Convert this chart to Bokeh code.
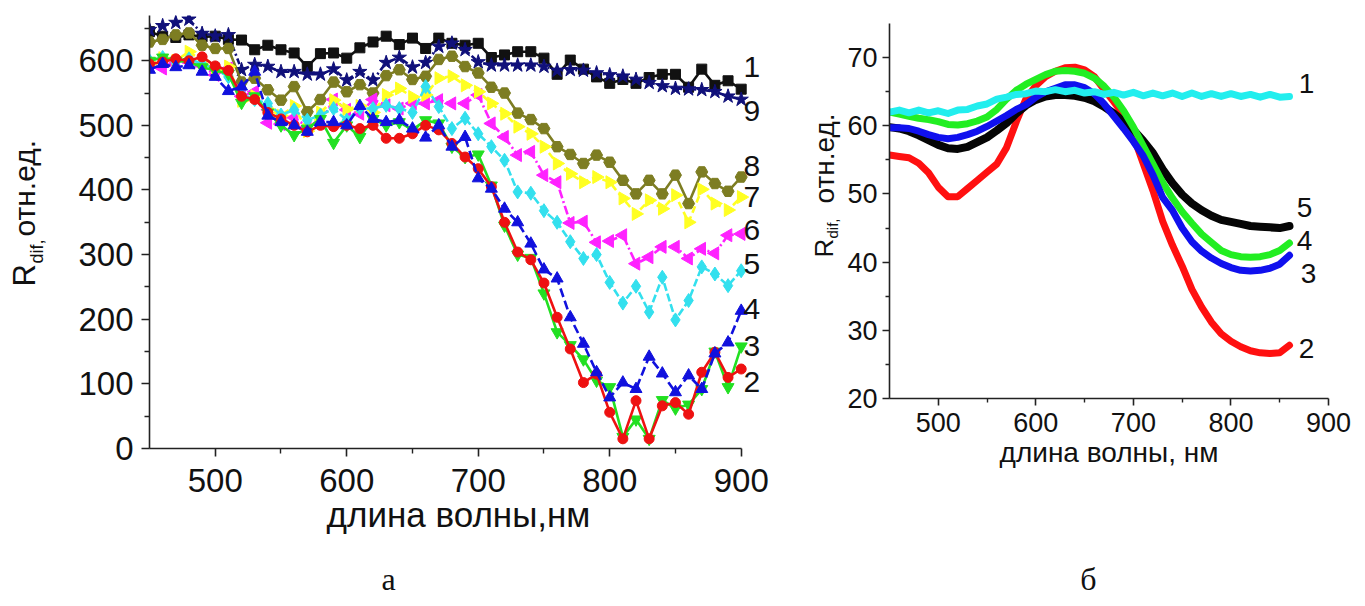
import math
from bokeh.plotting import figure
from bokeh.layouts import row, column
from bokeh.models import FixedTicker, Range1d
from bokeh.core.properties import value
from bokeh.embed import file_html
from bokeh.resources import INLINE

# ---------------- data: panel a ----------------
wl_a = [450 + 10 * i for i in range(46)]
s1_black = [645, 638, 636, 640, 637, 638, 633, 632, 617, 624, 617, 612, 591, 611, 612, 604, 620, 629, 638, 625,
            635, 619, 635, 627, 624, 627, 605, 609, 614, 614, 604, 579, 601, 587, 575, 565, 571, 565, 574, 579,
            579, 559, 587, 562, 569, 556]
s9_navy = [648, 654, 659, 664, 642, 638, 640, 586, 594, 591, 583, 583, 579, 579, 587, 570, 583, 570, 597, 605,
           590, 597, 622, 627, 617, 598, 593, 593, 593, 593, 591, 585, 586, 585, 581, 578, 576, 571, 566, 561,
           557, 556, 555, 552, 545, 540]
s8_olive = [629, 633, 640, 643, 624, 619, 619, 567, 573, 555, 539, 560, 521, 540, 567, 552, 563, 550, 577, 586,
            571, 576, 602, 607, 591, 581, 559, 550, 519, 509, 495, 467, 455, 441, 454, 443, 415, 394, 415, 394,
            423, 379, 428, 410, 398, 420]
s7_yellow = [595, 604, 600, 614, 600, 585, 591, 538, 545, 525, 515, 530, 491, 520, 539, 525, 530, 520, 547, 557,
             544, 547, 573, 576, 562, 552, 534, 518, 498, 487, 467, 441, 425, 412, 420, 412, 387, 363, 384, 371,
             392, 350, 401, 379, 369, 389]
s6_magenta = [591, 588, 596, 598, 592, 578, 588, 545, 552, 504, 502, 512, 498, 504, 540, 524, 518, 540, 531, 526,
              534, 534, 539, 534, 534, 547, 503, 482, 454, 459, 423, 412, 349, 351, 319, 321, 330, 286, 296, 312,
              312, 294, 309, 302, 330, 332]
s5_cyan = [600, 605, 598, 603, 595, 588, 575, 548, 540, 534, 516, 524, 508, 516, 526, 508, 526, 526, 531, 526,
           520, 560, 529, 495, 511, 487, 467, 446, 397, 395, 368, 350, 320, 294, 300, 257, 225, 251, 211, 265,
           199, 229, 281, 270, 252, 275]
s4_blue = [586, 595, 590, 593, 583, 575, 553, 560, 583, 515, 505, 500, 490, 505, 505, 500, 530, 510, 505, 508,
           495, 481, 500, 467, 482, 418, 402, 371, 350, 317, 277, 263, 203, 162, 118, 79, 102, 92, 142, 116,
           87, 113, 92, 147, 164, 213]
s3_green = [600, 605, 600, 598, 590, 585, 580, 535, 545, 520, 500, 485, 495, 510, 473, 500, 482, 510, 500, 505,
            493, 508, 503, 467, 451, 455, 407, 345, 300, 295, 240, 180, 160, 138, 105, 95, 18, 45, 15, 75,
            62, 68, 92, 150, 95, 158]
s2_red = [595, 598, 603, 600, 606, 592, 585, 545, 540, 520, 510, 500, 490, 500, 498, 500, 495, 500, 480, 480,
          487, 500, 493, 472, 451, 433, 405, 350, 304, 292, 256, 203, 154, 102, 115, 56, 15, 74, 15, 66,
          71, 53, 118, 149, 110, 123]
labels_a = ["1", "9", "8", "7", "6", "5", "4", "3", "2"]

# ---------------- data: panel b ----------------
wl_b = [450 + 10 * i for i in range(42)]
b2_red = [55.7, 55.5, 55.3, 54.5, 53.1, 51.0, 49.6, 49.6, 50.8, 52.0, 53.2, 54.4, 56.8, 60.6, 64.0, 65.9, 67.2,
          68.0, 68.5, 68.6, 68.2, 67.2, 65.3, 63.5, 61.6, 58.5, 54.5, 50.5, 46.0, 42.5, 39.4, 36.0, 33.4, 31.2,
          29.5, 28.4, 27.6, 27.0, 26.7, 26.6, 26.7, 27.8]
b5_black = [59.8, 59.6, 59.2, 58.6, 57.9, 57.2, 56.7, 56.6, 56.9, 57.6, 58.3, 59.3, 60.4, 61.8, 63.0, 63.8, 64.3,
            64.5, 64.5, 64.4, 64.1, 63.6, 62.8, 61.8, 60.6, 59.4, 57.8, 56.0, 53.6, 51.6, 49.9, 48.6, 47.6, 46.8,
            46.2, 45.9, 45.6, 45.3, 45.2, 45.1, 45.0, 45.3]
b3_blue = [59.7, 59.7, 59.6, 59.2, 58.7, 58.3, 58.1, 58.3, 58.7, 59.2, 59.9, 60.7, 61.5, 62.4, 63.1, 64.2, 65.0,
           65.5, 66.0, 66.0, 65.6, 64.7, 63.2, 61.4, 59.6, 57.7, 55.6, 52.8, 49.5, 47.6, 45.0, 43.0, 41.6, 40.6,
           39.8, 39.2, 38.8, 38.7, 38.8, 39.1, 39.7, 41.0]
b4_green = [62.0, 61.7, 61.4, 61.1, 60.9, 60.6, 60.2, 60.1, 60.3, 60.7, 61.3, 62.4, 63.9, 65.2, 66.1, 66.8, 67.5,
            68.0, 68.1, 68.0, 67.7, 67.0, 65.8, 64.2, 62.2, 59.8, 57.1, 54.4, 51.7, 49.4, 47.4, 45.7, 44.1, 42.9,
            41.7, 41.1, 40.8, 40.7, 40.8, 41.1, 41.7, 42.8]
b1_cyan = [62.0, 62.3, 61.9, 62.3, 61.9, 62.2, 61.8, 62.3, 62.4, 62.9, 63.2, 63.9, 64.2, 64.6, 64.7, 65.1, 65.0,
           65.3, 65.0, 65.2, 64.8, 65.0, 64.6, 64.9, 64.5, 64.9, 64.4, 64.8, 64.4, 64.8, 64.3, 64.8, 64.3, 64.7,
           64.3, 64.7, 64.3, 64.6, 64.2, 64.6, 64.2, 64.3]
labels_b = ["1", "5", "4", "3", "2"]

FONT = "Liberation Sans"
SERIF = "Liberation Serif"
MAIN_H = 546
CAP_H = 606 - MAIN_H


def style_axes(p, tick_size, out_major, out_minor, xstand, ystand):
    p.outline_line_color = None
    p.grid.visible = False
    for ax in (p.xaxis[0], p.yaxis[0]):
        ax.axis_line_width = 1.6
        ax.axis_line_color = "#222222"
        ax.major_tick_line_width = 1.6
        ax.minor_tick_line_width = 1.4
        ax.major_tick_line_color = "#222222"
        ax.minor_tick_line_color = "#222222"
        ax.major_tick_in = 0
        ax.major_tick_out = out_major
        ax.minor_tick_in = 0
        ax.minor_tick_out = out_minor
        ax.major_label_text_font = FONT
        ax.major_label_text_font_size = tick_size
        ax.major_label_text_color = "#111111"
        ax.axis_label_text_font = FONT
        ax.axis_label_text_font_style = "normal"
        ax.axis_label_text_color = "#111111"
    p.xaxis.major_label_standoff = xstand
    p.yaxis.major_label_standoff = ystand


def blank_fig(w, h):
    f = figure(width=w, height=h, x_range=Range1d(0, w), y_range=Range1d(0, h),
               output_backend="svg", toolbar_location=None,
               min_border_left=0, min_border_right=0, min_border_top=0, min_border_bottom=0,
               x_axis_location=None, y_axis_location=None)
    f.outline_line_color = None
    f.grid.visible = False
    return f


VSHIFT = 12  # rotated text is drawn this far right of its anchor


def vtext(f, x, y, t, size, font=FONT):
    f.text(x=[x - VSHIFT], y=[y], text=[t], angle=math.pi / 2, text_font=value(font), text_font_size=size,
           text_color="#111111", text_align="left", text_baseline="alphabetic")


# ================= y-title strip for panel a =================
LA_W = 60
labA = blank_fig(LA_W, MAIN_H)
vtext(labA, 36, MAIN_H - 286, "R", "31px")
vtext(labA, 48, MAIN_H - 263, "dif,", "18px")
vtext(labA, 36, MAIN_H - 236, "отн.ед.", "30px")

# ================= panel a =================
A_W = 800 - LA_W
A_BL, A_BR, A_BT, A_BB = 149 - LA_W, 33, 15, MAIN_H - 448
p1 = figure(width=A_W, height=MAIN_H, x_range=Range1d(450, 920), y_range=Range1d(0, 670),
            output_backend="svg", toolbar_location=None,
            min_border_left=A_BL, min_border_right=A_BR, min_border_top=A_BT, min_border_bottom=A_BB)
style_axes(p1, "33px", 8, 5, 12, 8)
p1.xaxis.bounds = (450, 900)
p1.xaxis.ticker = FixedTicker(ticks=[500, 600, 700, 800, 900], minor_ticks=[550, 650, 750, 850])
p1.yaxis.ticker = FixedTicker(ticks=[0, 100, 200, 300, 400, 500, 600],
                              minor_ticks=[50, 150, 250, 350, 450, 550, 650])
p1.xaxis.axis_label = "длина волны,нм"
p1.xaxis.axis_label_text_font_size = "35px"
p1.xaxis.axis_label_standoff = 0

a_frame_w = A_W - A_BL - A_BR
a_frame_h = MAIN_H - A_BT - A_BB


def a_x(px):
    return 450 + (px - LA_W - A_BL) * 470 / a_frame_w


def a_y(py):
    return (MAIN_H - A_BB - py) * 670 / a_frame_h


series_a = [
    (s1_black, "#111111", "square", 10, "solid", 0.0),
    (s9_navy, "#10107a", "star", 15, "6 3 2 3", 0.0),
    (s8_olive, "#7d7d22", "hex", 12, "solid", 0.0),
    (s6_magenta, "#ff22ff", "triangle", 13, "9 3 2 3", math.pi / 2),
    (s7_yellow, "#ffff22", "triangle", 13, "7 4", -math.pi / 2),
    (s5_cyan, "#33e0ee", "diamond", 14, "8 3", 0.0),
    (s3_green, "#22e022", "inverted_triangle", 12, "solid", 0.0),
    (s2_red, "#ee1111", "circle", 10, "solid", 0.0),
    (s4_blue, "#1111dd", "triangle", 12, "9 4", 0.0),
]
for vals, col, mk, sz, dash, ang in series_a:
    p1.line(wl_a, vals, line_color=col, line_width=2.6, line_dash=dash)
    p1.scatter(wl_a, vals, marker=mk, size=sz, angle=ang, fill_color=col, line_color=col)

lab_a_y = [66, 110, 165, 196, 229, 263, 308, 345, 381]
p1.text(x=[a_x(743)] * len(labels_a), y=[a_y(v) for v in lab_a_y], text=labels_a,
        text_font=value(FONT), text_font_size="30px", text_color="#111111",
        text_align="left", text_baseline="middle")

# ================= y-title strip for panel b =================
LB_W = 44
labB = blank_fig(LB_W, MAIN_H)
vtext(labB, 35, MAIN_H - 257, "R", "26px")
vtext(labB, 44, MAIN_H - 238, "dif,", "15px")
vtext(labB, 36, MAIN_H - 203, "отн.ед.", "28px")

# ================= panel b =================
B_W = 1365 - 800 - LB_W
B_LEFT = 800 + LB_W
B_BL = 887 - B_LEFT
B_BR = B_W - B_BL - 441
B_BT, B_BB = 23, MAIN_H - 398
p2 = figure(width=B_W, height=MAIN_H, x_range=Range1d(450, 900), y_range=Range1d(20, 75),
            output_backend="svg", toolbar_location=None,
            min_border_left=B_BL, min_border_right=B_BR, min_border_top=B_BT, min_border_bottom=B_BB)
style_axes(p2, "27px", 7, 4, 7, 5)
p2.xaxis.ticker = FixedTicker(ticks=[500, 600, 700, 800, 900], minor_ticks=[550, 650, 750, 850])
p2.yaxis.ticker = FixedTicker(ticks=[20, 30, 40, 50, 60, 70], minor_ticks=[25, 35, 45, 55, 65])
p2.xaxis.axis_label = "длина волны, нм"
p2.xaxis.axis_label_text_font_size = "28px"
p2.xaxis.axis_label_standoff = 2

b_frame_w = B_W - B_BL - B_BR
b_frame_h = MAIN_H - B_BT - B_BB


def b_x(px):
    return 450 + (px - B_LEFT - B_BL) * 450 / b_frame_w


def b_y(py):
    return 20 + (MAIN_H - B_BB - py) * 55 / b_frame_h


series_b = [
    (b2_red, "#ff1010", 7),
    (b5_black, "#050505", 8),
    (b4_green, "#22ee22", 7),
    (b3_blue, "#1010ee", 7),
    (b1_cyan, "#22eeee", 7),
]
for vals, col, w in series_b:
    p2.line(wl_b, vals, line_color=col, line_width=w, line_join="round", line_cap="round")

lab_b = [(1298, 83), (1296, 207), (1296, 240), (1300, 273), (1298, 348)]
p2.text(x=[b_x(px) for px, _ in lab_b], y=[b_y(py) for _, py in lab_b], text=labels_b,
        text_font=value(FONT), text_font_size="28px", text_color="#111111",
        text_align="left", text_baseline="middle")

# ================= captions =================
cap = blank_fig(1365, CAP_H)
cap.text(x=[388, 1088], y=[606 - 578, 606 - 578], text=["а", "б"], text_font=value(SERIF),
         text_font_size="32px", text_color="#111111", text_align="center", text_baseline="middle")

layout = column(row(column(labA), column(p1), column(labB), column(p2), spacing=0),
                row(cap), spacing=0)
open("out.html", "w").write(file_html(layout, INLINE))
